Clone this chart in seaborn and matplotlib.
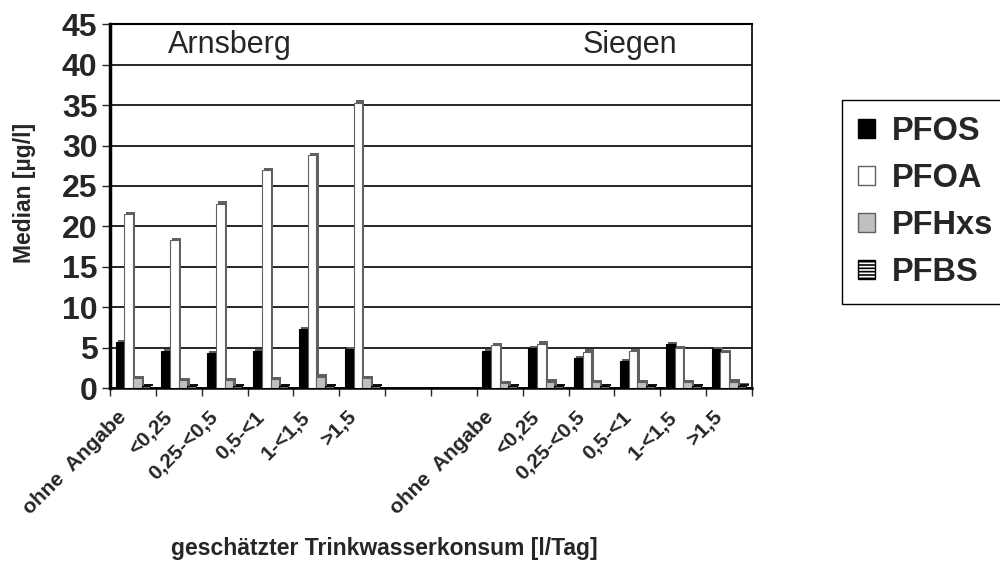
import numpy as np
import pandas as pd
import matplotlib
matplotlib.use("Agg")
from matplotlib import pyplot as plt
from matplotlib import patheffects as pe
from matplotlib import transforms
from matplotlib.patches import Patch
import seaborn as sns

# categories: 6 Arnsberg, 2 empty slots, 6 Siegen
cat_keys = ['A0', 'A1', 'A2', 'A3', 'A4', 'A5', 'G1', 'G2',
            'S0', 'S1', 'S2', 'S3', 'S4', 'S5']
tick_labels = ['ohne  Angabe', '<0,25', '0,25-<0,5', '0,5-<1', '1-<1,5', '>1,5', '', '',
               'ohne  Angabe', '<0,25', '0,25-<0,5', '0,5-<1', '1-<1,5', '>1,5']
arnsberg_keys = ['A0', 'A1', 'A2', 'A3', 'A4', 'A5']
siegen_keys = ['S0', 'S1', 'S2', 'S3', 'S4', 'S5']
substances = ['PFOS', 'PFOA', 'PFHxs', 'PFBS']

pfos_arnsberg = [5.7, 4.6, 4.3, 4.6, 7.3, 4.8]
pfoa_arnsberg = [21.5, 18.3, 22.8, 27.0, 28.8, 35.3]
pfhxs_arnsberg = [1.2, 1.0, 1.0, 1.1, 1.4, 1.2]
pfbs_arnsberg = [0.2, 0.2, 0.2, 0.2, 0.2, 0.2]

pfos_siegen = [4.6, 4.9, 3.7, 3.3, 5.4, 4.8]
pfoa_siegen = [5.3, 5.5, 4.5, 4.6, 4.9, 4.4]
pfhxs_siegen = [0.6, 0.8, 0.7, 0.7, 0.7, 0.8]
pfbs_siegen = [0.2, 0.2, 0.2, 0.2, 0.2, 0.3]

rows = []
for keys, series in [(arnsberg_keys, [pfos_arnsberg, pfoa_arnsberg, pfhxs_arnsberg, pfbs_arnsberg]),
                     (siegen_keys, [pfos_siegen, pfoa_siegen, pfhxs_siegen, pfbs_siegen])]:
    for sub, vals in zip(substances, series):
        for k, v in zip(keys, vals):
            rows.append({'cat': k, 'stoff': sub, 'wert': v})
df = pd.DataFrame(rows)

face = {'PFOS': 'black', 'PFOA': 'white', 'PFHxs': '#c0c0c0', 'PFBS': 'white'}
edge = {'PFOS': 'black', 'PFOA': '#606060', 'PFHxs': '#606060', 'PFBS': 'black'}

sns.set_style('white')
plt.rcParams['font.family'] = ['Liberation Sans', 'DejaVu Sans']
plt.rcParams['hatch.linewidth'] = 1.2

fig = plt.figure(figsize=(10, 5.64), dpi=100)
ax = fig.add_axes([0.11, 0.312, 0.642, 0.645])

sns.barplot(data=df, x='cat', y='wert', hue='stoff', order=cat_keys, hue_order=substances,
            palette=face, width=0.76, legend=False, ax=ax, zorder=3)

shadow = [pe.SimplePatchShadow(offset=(1.6, 1.6), shadow_rgbFace='#606060', alpha=1.0), pe.Normal()]
for sub, cont in zip(substances, ax.containers):
    for p in cont.patches:
        p.set_edgecolor(edge[sub])
        p.set_linewidth(0.8)
        p.set_path_effects(shadow)
        if sub == 'PFBS':
            p.set_hatch('-----')

ax.set_ylim(0, 45)
ax.set_xlim(-0.5, len(cat_keys) - 0.5)
ax.set_yticks(np.arange(0, 46, 5))
ax.yaxis.grid(True, color='black', linewidth=1.2, zorder=0)
ax.set_axisbelow(True)

for s in ['left', 'right', 'top', 'bottom']:
    ax.spines[s].set_visible(True)
    ax.spines[s].set_color('black')
ax.spines['left'].set_linewidth(2.5)
ax.spines['bottom'].set_linewidth(1.8)
ax.spines['top'].set_linewidth(1.5)
ax.spines['right'].set_linewidth(1.2)

ax.tick_params(axis='y', direction='out', length=6, width=1, pad=3, labelsize=23, left=True)
for t in ax.get_yticklabels():
    t.set_fontweight('bold')

# category boundaries as ticks, labels at centres
ax.set_xticks(np.arange(len(cat_keys)))
ax.set_xticklabels(tick_labels, rotation=45, ha='right', va='top', rotation_mode='anchor',
                   fontsize=15, fontweight='bold')
ax.tick_params(axis='x', which='major', length=0, pad=14)
ax.set_xticks(np.arange(-0.5, len(cat_keys), 1.0), minor=True)
ax.tick_params(axis='x', which='minor', direction='out', length=6, width=1, bottom=True)
off = transforms.ScaledTranslation(-16 / 100, 0, fig.dpi_scale_trans)
for t in ax.get_xticklabels():
    t.set_transform(t.get_transform() + off)

ax.set_xlabel('geschätzter Trinkwasserkonsum [l/Tag]', fontsize=16.5, fontweight='bold')
ax.xaxis.set_label_coords((384 - 110) / 642, -0.41)
ax.set_ylabel('Median [µg/l]', fontsize=16.5, fontweight='bold')
ax.yaxis.set_label_coords(-0.115, 0.536)

ax.text(0.77, 42.4, 'Arnsberg', fontsize=22, va='center', ha='left')
ax.text(9.8, 42.4, 'Siegen', fontsize=22, va='center', ha='left')

handles = [Patch(facecolor=face[s], edgecolor=edge[s], hatch='-----' if s == 'PFBS' else None)
           for s in substances]
leg = fig.legend(handles, substances, loc='upper left', bbox_to_anchor=(0.842, 0.823),
                 frameon=True, fancybox=False, edgecolor='black', framealpha=1,
                 prop={'weight': 'bold', 'size': 23.5}, handlelength=0.52, handleheight=0.52,
                 handletextpad=0.5, labelspacing=0.49, borderpad=0.5, borderaxespad=0)
leg.get_frame().set_linewidth(1.0)

fig.savefig('out.png', dpi=100)
